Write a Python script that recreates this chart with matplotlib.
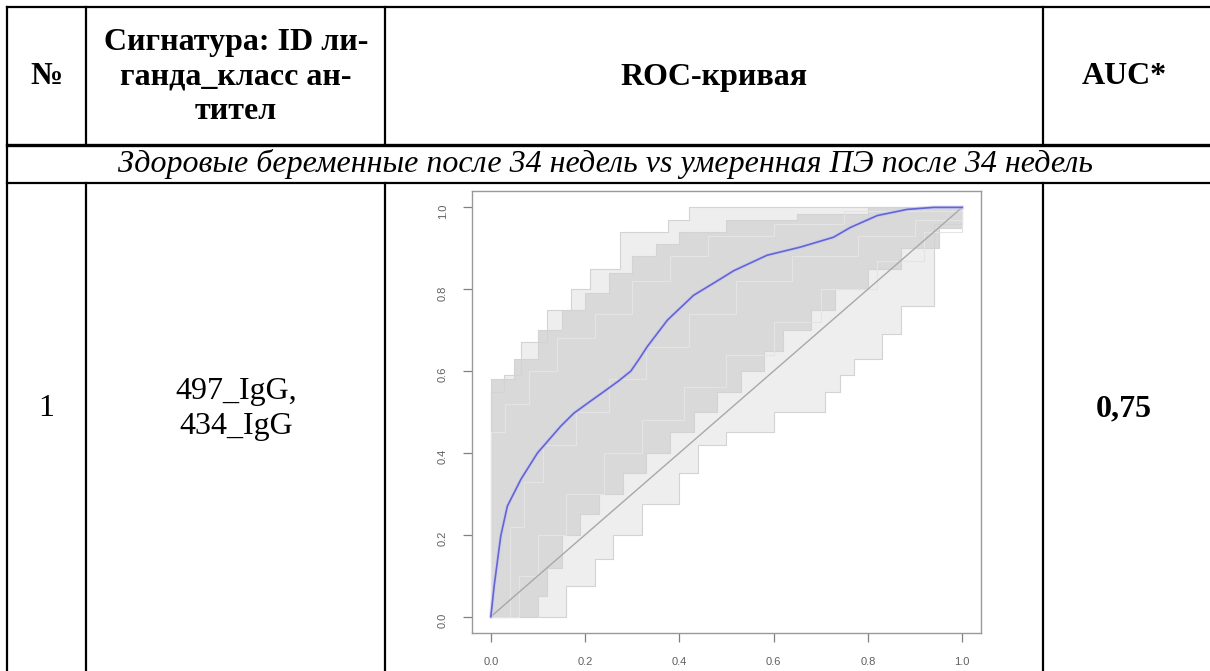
import numpy as np
import matplotlib.pyplot as plt

W, H = 1210, 671

# table texts
col_headers = ["№", "Сигнатура: ID ли-\nганда_класс ан-\nтител", "ROC-кривая", "AUC*"]
group_title = "Здоровые беременные после 34 недель vs умеренная ПЭ после 34 недель"
row_num = "1"
row_signature = "497_IgG,\n434_IgG"
row_auc = "0,75"

# smoothed ROC curve (1 - specificity, sensitivity)
roc_fpr = [0.0, 0.007, 0.021, 0.035, 0.064, 0.099, 0.148, 0.176, 0.212, 0.24, 0.27,
           0.297, 0.315, 0.332, 0.375, 0.43, 0.487, 0.515, 0.586, 0.657, 0.727, 0.763,
           0.82, 0.883, 0.94, 1.0]
roc_tpr = [0.0, 0.075, 0.197, 0.27, 0.336, 0.40, 0.465, 0.497, 0.527, 0.55, 0.575,
           0.60, 0.63, 0.66, 0.725, 0.785, 0.825, 0.845, 0.883, 0.903, 0.927, 0.951,
           0.98, 0.995, 1.0, 1.0]

# bootstrap ROC cloud: step envelopes (knots, steps-post)
outer_top_x = [0.0, 0.0, 0.028, 0.064, 0.12, 0.17, 0.21, 0.275, 0.375, 0.42, 1.0]
outer_top_y = [0.0, 0.55, 0.59, 0.67, 0.75, 0.80, 0.85, 0.94, 0.97, 1.0, 1.0]
outer_bot_x = [0.0, 0.16, 0.22, 0.26, 0.32, 0.40, 0.44, 0.50, 0.60, 0.71, 0.74, 0.77,
               0.83, 0.87, 0.94, 1.0]
outer_bot_y = [0.0, 0.075, 0.14, 0.20, 0.275, 0.35, 0.42, 0.45, 0.50, 0.55, 0.59, 0.63,
               0.69, 0.76, 0.96, 1.0]
inner_top_x = [0.0, 0.0, 0.05, 0.10, 0.15, 0.20, 0.25, 0.30, 0.35, 0.40, 0.50, 0.65, 0.80, 1.0]
inner_top_y = [0.0, 0.58, 0.63, 0.70, 0.75, 0.79, 0.84, 0.88, 0.91, 0.94, 0.97, 0.985, 1.0, 1.0]
inner_bot_x = [0.0, 0.10, 0.12, 0.15, 0.19, 0.23, 0.28, 0.33, 0.38, 0.43, 0.48, 0.53,
               0.58, 0.62, 0.68, 0.73, 0.80, 0.87, 0.95, 1.0]
inner_bot_y = [0.0, 0.05, 0.12, 0.20, 0.25, 0.30, 0.35, 0.40, 0.45, 0.50, 0.55, 0.60,
               0.65, 0.70, 0.75, 0.80, 0.85, 0.90, 0.95, 1.0]
# a few single resamples running through the cloud
mid_curves = [
    ([0.0, 0.0, 0.03, 0.08, 0.14, 0.22, 0.30, 0.38, 0.46, 0.60, 0.75, 1.0],
     [0.0, 0.45, 0.52, 0.60, 0.68, 0.74, 0.82, 0.88, 0.93, 0.96, 0.99, 1.0]),
    ([0.0, 0.04, 0.07, 0.11, 0.18, 0.25, 0.33, 0.42, 0.52, 0.64, 0.78, 0.90, 1.0],
     [0.0, 0.22, 0.33, 0.42, 0.50, 0.58, 0.66, 0.74, 0.82, 0.88, 0.93, 0.97, 1.0]),
    ([0.0, 0.06, 0.10, 0.16, 0.24, 0.32, 0.41, 0.50, 0.60, 0.70, 0.82, 0.92, 1.0],
     [0.0, 0.10, 0.20, 0.30, 0.40, 0.48, 0.56, 0.64, 0.72, 0.80, 0.87, 0.94, 1.0]),
]

ticks = [0.0, 0.2, 0.4, 0.6, 0.8, 1.0]


def stairs(xs, ys):
    vx, vy = [xs[0]], [ys[0]]
    for i in range(1, len(xs)):
        vx += [xs[i], xs[i]]
        vy += [ys[i - 1], ys[i]]
    return np.array(vx), np.array(vy)


fig = plt.figure(figsize=(W / 100, H / 100), dpi=100)
serif = ["Liberation Serif", "DejaVu Serif"]
fs = 23

# --- table grid, drawn in pixel coordinates ---
tab = fig.add_axes([0, 0, 1, 1])
tab.set_xlim(0, W)
tab.set_ylim(H, 0)
tab.axis("off")

tab.plot([7, W], [7, 7], color="black", lw=1.6)
tab.plot([7, W], [145, 145], color="black", lw=2.4)
tab.plot([7, W], [183, 183], color="black", lw=1.6)
tab.plot([7, 7], [7, H], color="black", lw=1.6)
for x in [86, 385, 1043]:
    tab.plot([x, x], [7, 145], color="black", lw=1.6)
    tab.plot([x, x], [183, H], color="black", lw=1.6)

hdr_x = [46, 236, 714, 1124]
for x, s in zip(hdr_x, col_headers):
    tab.text(x, 77, s, ha="center", va="center", fontsize=fs, fontweight="bold",
             family=serif, linespacing=1.25)

tab.text(606, 164, group_title, ha="center", va="center", fontsize=fs,
         style="italic", family=serif)

tab.text(46, 409, row_num, ha="center", va="center", fontsize=fs, family=serif)
tab.text(236, 409, row_signature, ha="center", va="center", fontsize=fs,
         family=serif, linespacing=1.25)
tab.text(1124, 409, row_auc, ha="center", va="center", fontsize=fs,
         fontweight="bold", family=serif)

# --- ROC plot ---
ax = fig.add_axes([472 / W, (H - 633) / H, (981 - 472) / W, (633 - 191) / H])
ax.set_xlim(-0.04, 1.04)
ax.set_ylim(-0.04, 1.04)

otx, oty = stairs(outer_top_x, outer_top_y)
obx, oby = stairs(outer_bot_x, outer_bot_y)
itx, ity = stairs(inner_top_x, inner_top_y)
ibx, iby = stairs(inner_bot_x, inner_bot_y)

ax.fill(np.r_[otx, obx[::-1]], np.r_[oty, oby[::-1]], color="#eeeeee", lw=0)
ax.fill(np.r_[itx, ibx[::-1]], np.r_[ity, iby[::-1]], color="#d9d9d9", lw=0)
for sx, sy in [(otx, oty), (obx, oby), (itx, ity), (ibx, iby)]:
    ax.plot(sx, sy, color="#d3d3d3", lw=0.8)
for cx, cy in mid_curves:
    sx, sy = stairs(cx, cy)
    ax.plot(sx, sy, color="#e4e4e4", lw=0.8)

ax.plot([0, 1], [0, 1], color="#a8a8a8", lw=1.0)
ax.plot(roc_fpr, roc_tpr, color="#c8c8f0", lw=2.6, alpha=0.7)
ax.plot(roc_fpr, roc_tpr, color="#6464d2", lw=1.2)

ax.set_xticks(ticks)
ax.set_yticks(ticks)
ax.set_xticklabels([f"{t:.1f}" for t in ticks])
ax.set_yticklabels([f"{t:.1f}" for t in ticks])
ax.tick_params(direction="out", length=6.5, width=0.9, color="#808080",
               labelcolor="#606060", labelsize=8, pad=11)
ax.tick_params(axis="y", labelrotation=90)
for sp in ax.spines.values():
    sp.set_color("#999999")
    sp.set_linewidth(1.0)
for lab in ax.get_xticklabels() + ax.get_yticklabels():
    lab.set_family(["Liberation Sans", "DejaVu Sans"])

fig.savefig("out.png", dpi=100)
